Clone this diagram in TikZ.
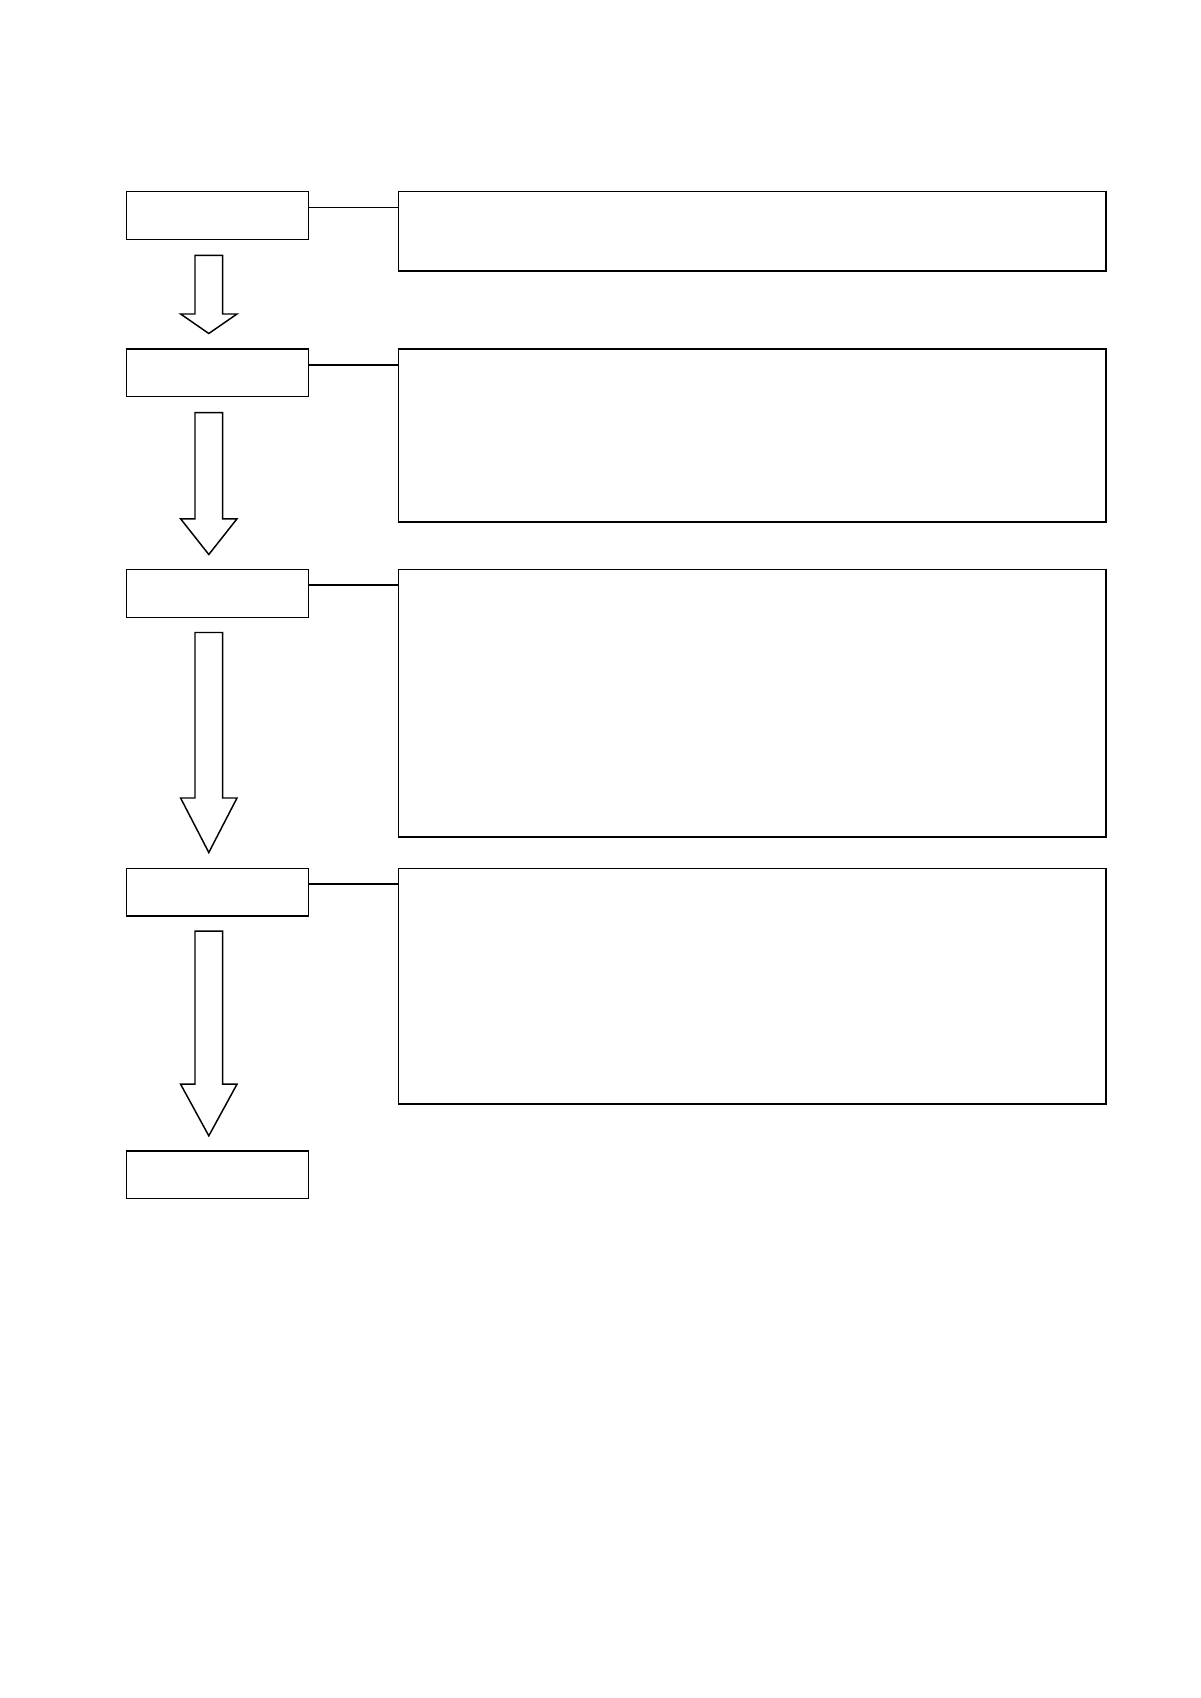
\documentclass[tikz,border=0pt]{standalone}
\usetikzlibrary{calc}
\tikzset{
  lbox/.style={draw, line width=1.1pt, rectangle, inner sep=0pt, outer sep=0pt, anchor=north west, minimum width=182*0.75pt, minimum height=47.6*0.75pt},
  rbox/.style={draw, line width=1.1pt, rectangle, inner sep=0pt, outer sep=0pt, anchor=north west, minimum width=707.3*0.75pt},
  link/.style={draw, line width=1.1pt},
  blockarr/.style={draw, line width=1.1pt, fill=white, line join=miter},
}
\newcommand{\myblockarrow}[3]{%
  \draw[blockarr] (195,#1) -- (222.7,#1) -- (222.7,#2) -- (237,#2) -- (208.8,#3) -- (180.6,#2) -- (195,#2) -- cycle;}
\begin{document}
\begin{tikzpicture}[x=0.75pt,y=-0.75pt]
\useasboundingbox (0,0) rectangle (1200,1698);
\node[lbox] (b1) at (126.7,191.7) {};
\node[lbox] (b2) at (126.7,348.8) {};
\node[lbox] (b3) at (126.7,569.7) {};
\node[lbox] (b4) at (126.7,868.3) {};
\node[lbox] (b5) at (126.7,1150.9) {};
\node[rbox, minimum height=79.1*0.75pt] (r1) at (398.5,191.7) {};
\node[rbox, minimum height=173.2*0.75pt] (r2) at (398.5,348.8) {};
\node[rbox, minimum height=267.3*0.75pt] (r3) at (398.5,569.7) {};
\node[rbox, minimum height=235.6*0.75pt] (r4) at (398.5,868.3) {};
\coordinate (c1) at (308.7,207.7);
\coordinate (c2) at (308.7,365.0);
\coordinate (c3) at (308.7,584.8);
\coordinate (c4) at (308.7,884.0);
\draw[link] (c1) -- (c1 -| r1.west);
\draw[link] (c2) -- (c2 -| r2.west);
\draw[link] (c3) -- (c3 -| r3.west);
\draw[link] (c4) -- (c4 -| r4.west);
\myblockarrow{255.3}{314}{333.5}
\myblockarrow{412.6}{518.8}{554.5}
\myblockarrow{632.5}{798}{852.5}
\myblockarrow{931.2}{1084.2}{1135.8}
\end{tikzpicture}
\end{document}
